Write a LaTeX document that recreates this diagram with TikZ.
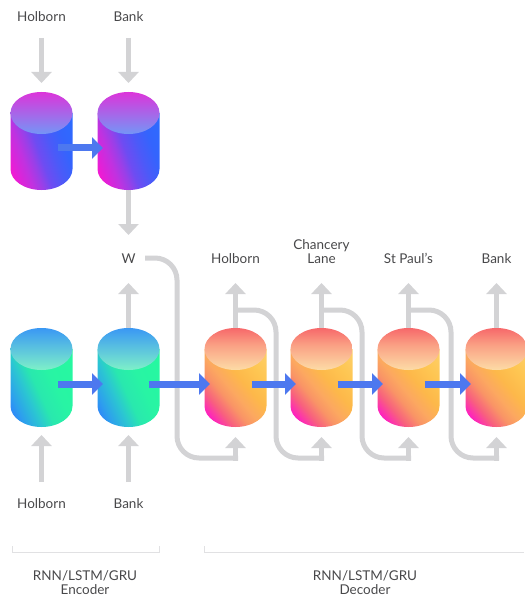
\documentclass[tikz,border=0pt]{standalone}
\usepackage{fontspec}
\setmainfont{Lato}
\usetikzlibrary{arrows.meta}
\definecolor{lgr}{RGB}{211,211,213}
\definecolor{brk}{RGB}{225,225,227}
\definecolor{txt}{RGB}{72,72,74}
\definecolor{blu}{RGB}{77,120,239}
% top cylinders
\definecolor{ta}{HTML}{F21AD2}\definecolor{tb}{HTML}{E022D8}\definecolor{tc}{HTML}{C032E0}
\definecolor{td}{HTML}{9840E8}\definecolor{te}{HTML}{6E4CF2}\definecolor{tf}{HTML}{4C5AF8}
\definecolor{tg}{HTML}{3464FD}\definecolor{th}{HTML}{2C6CFF}
\definecolor{tft}{HTML}{DC34DA}\definecolor{tfb}{HTML}{7496F6}
% encoder cylinders
\definecolor{ea}{HTML}{2E88F8}\definecolor{eb}{HTML}{2D9EEE}\definecolor{ec}{HTML}{2BC6D2}
\definecolor{ed}{HTML}{29E8AE}\definecolor{ee}{HTML}{28F4A4}\definecolor{ef}{HTML}{26F8A0}
\definecolor{eft}{HTML}{3A98F4}\definecolor{efb}{HTML}{7EF0C8}
% decoder cylinders
\definecolor{da}{HTML}{FF18C8}\definecolor{db}{HTML}{F8607E}\definecolor{dc}{HTML}{F99466}
\definecolor{dd}{HTML}{FCA860}\definecolor{de}{HTML}{FDB84A}\definecolor{dg}{HTML}{FEC652}
\definecolor{dh}{HTML}{FDD06C}
\definecolor{dft}{HTML}{F7686A}\definecolor{dfm}{HTML}{FAA084}\definecolor{dfb}{HTML}{FCDCA6}
\pgfdeclarehorizontalshading{topbody}{100bp}{color(0bp)=(ta); color(23bp)=(ta);
  color(27bp)=(tb); color(35bp)=(tc); color(42bp)=(td); color(48bp)=(te);
  color(58bp)=(tf); color(68bp)=(tg); color(82bp)=(th); color(100bp)=(th)}
\pgfdeclarehorizontalshading{encbody}{100bp}{color(0bp)=(ea); color(22bp)=(ea);
  color(27bp)=(eb); color(38bp)=(ec); color(47bp)=(ed); color(60bp)=(ee);
  color(80bp)=(ef); color(100bp)=(ef)}
\pgfdeclarehorizontalshading{decbody}{100bp}{color(0bp)=(da); color(21bp)=(da);
  color(31bp)=(db); color(40bp)=(dc); color(47bp)=(dd); color(57bp)=(de);
  color(70bp)=(dg); color(86bp)=(dh); color(100bp)=(dh)}
\pgfdeclareverticalshading{decface}{100bp}{color(0bp)=(dfb); color(25bp)=(dfb);
  color(55bp)=(dfm); color(75bp)=(dft); color(100bp)=(dft)}
\newcommand\mycyl[3]{%
  \shade[#2] ([xshift=-31pt]#1) -- ([xshift=-31pt]#1b)
    arc[start angle=180,end angle=360,x radius=31pt,y radius=21pt]
    -- ([xshift=31pt]#1) -- cycle;
  \shade[#3] (#1) ellipse[x radius=31pt,y radius=21pt];
}
\begin{document}
\begin{tikzpicture}[x=1pt,y=1pt,
  lbl/.style={anchor=base,inner sep=0pt,text=txt,font=\fontsize{13.5}{14.5}\selectfont,align=center},
  garrow/.style={draw=lgr,line width=5pt,-{Triangle[width=20pt,length=11pt]}},
  gline/.style={draw=lgr,line width=5pt,rounded corners=22pt},
  barrow/.style={draw=blu,line width=7pt,-{Triangle[width=21pt,length=11pt]}},
  brline/.style={draw=brk,line width=1pt},
  tbody/.style={shading=topbody,shading angle=20},
  tface/.style={top color=tft,bottom color=tfb},
  ebody/.style={shading=encbody,shading angle=25},
  eface/.style={top color=eft,bottom color=efb},
  dbody/.style={shading=decbody,shading angle=40},
  dface/.style={shading=decface}]
\useasboundingbox (0,0) rectangle (524,-596);

% cylinder centres (top face centre, bottom centre)
\coordinate (t1) at (41.5,-113);  \coordinate (t1b) at (41.5,-169);
\coordinate (t2) at (128.5,-113); \coordinate (t2b) at (128.5,-169);
\coordinate (e1) at (41.5,-349);  \coordinate (e1b) at (41.5,-406);
\coordinate (e2) at (128.5,-349); \coordinate (e2b) at (128.5,-406);
\coordinate (d1) at (235.5,-349); \coordinate (d1b) at (235.5,-406);
\coordinate (d2) at (321.5,-349); \coordinate (d2b) at (321.5,-406);
\coordinate (d3) at (408.5,-349); \coordinate (d3b) at (408.5,-406);
\coordinate (d4) at (496.5,-349); \coordinate (d4b) at (496.5,-406);

% labels (base anchor = baseline of the last line)
\node[lbl] (lh) at (41.5,-22) {Holborn};
\node[lbl] (lb) at (128.5,-22) {Bank};
\node[lbl] (lw) at (128.5,-263) {W};
\node[lbl] (o1) at (235.5,-263) {Holborn};
\node[lbl] (o2) at (321.5,-263) {Chancery\\[-0.5pt]Lane};
\node[lbl] (o3) at (408.5,-263) {St Paul’s};
\node[lbl] (o4) at (496.5,-263) {Bank};
\node[lbl] (ih) at (41.5,-508) {Holborn};
\node[lbl] (ib) at (128.5,-508) {Bank};
\node[lbl] (encl) at (85,-594.5) {RNN/LSTM/GRU\\[0pt]Encoder};
\node[lbl] (decl) at (365,-594.5) {RNN/LSTM/GRU\\[0pt]Decoder};

% grey connectors (behind cylinders)
\draw[garrow] (t1 |- 0,-38) -- (t1 |- 0,-83);
\draw[garrow] (t2 |- 0,-38) -- (t2 |- 0,-83);
\draw[garrow] (t2b) -- (t2b |- 0,-235);
\draw[garrow] (e1 |- 0,-482) -- (e1 |- 0,-435);
\draw[garrow] (e2 |- 0,-482) -- (e2 |- 0,-435);
\draw[garrow] (e2) -- (e2 |- 0,-283);
\foreach \d in {d1,d2,d3,d4}{\draw[garrow] (\d) -- (\d |- 0,-283);}
% W to decoder 1
\coordinate (ws) at (145,-258);
\draw[gline] (ws) -| (177,-458) -- ([xshift=2.5pt]d1 |- 0,-458);
\draw[garrow] (d1 |- 0,-460.5) -- (d1 |- 0,-437);
% feedback loops
\foreach \a/\b/\v in {d1/d2/276,d2/d3/362,d3/d4/451}{
  \draw[gline] (\a |- 0,-310) -| (\v,-458) -- ([xshift=2.5pt]\b |- 0,-458);
  \draw[garrow] (\b |- 0,-460.5) -- (\b |- 0,-437);
}

% cylinders
\mycyl{t1}{tbody}{tface}
\mycyl{t2}{tbody}{tface}
\mycyl{e1}{ebody}{eface}
\mycyl{e2}{ebody}{eface}
\mycyl{d1}{dbody}{dface}
\mycyl{d2}{dbody}{dface}
\mycyl{d3}{dbody}{dface}
\mycyl{d4}{dbody}{dface}

% blue state arrows
\draw[barrow] ([shift={(16.5,-35)}]t1) -- ([shift={(-25.5,-35)}]t2);
\draw[barrow] ([shift={(16.5,-35)}]e1) -- ([shift={(-25.5,-35)}]e2);
\draw[barrow] ([shift={(20.5,-35)}]e2) -- ([shift={(-25.5,-35)}]d1);
\draw[barrow] ([shift={(16,-35)}]d1) -- ([shift={(-25.5,-35)}]d2);
\draw[barrow] ([shift={(16,-35)}]d2) -- ([shift={(-25.5,-35)}]d3);
\draw[barrow] ([shift={(16,-35)}]d3) -- ([shift={(-25.5,-35)}]d4);

% brackets
\draw[brline] (12,-546) -- (12,-552) -- (159,-552) -- (159,-546);
\draw[brline] (204,-546) -- (204,-552) -- (524,-552);
\end{tikzpicture}
\end{document}
